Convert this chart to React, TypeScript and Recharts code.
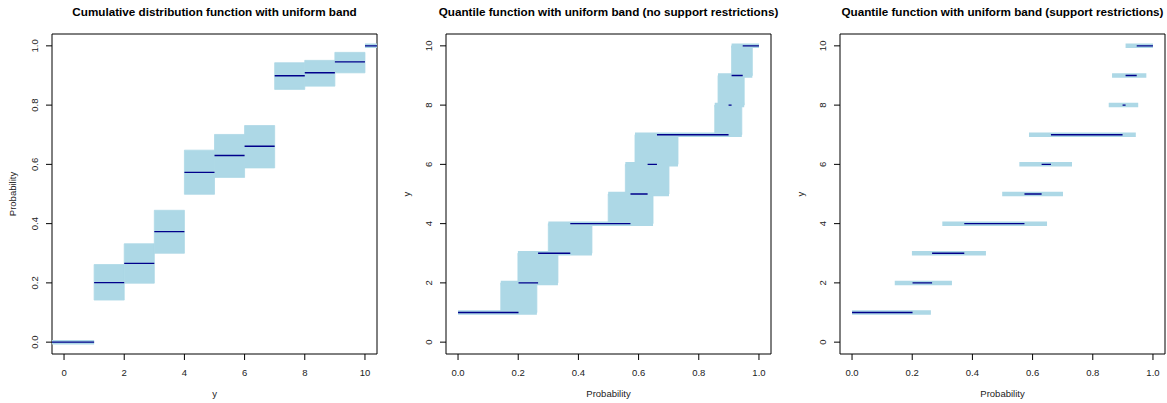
import React from 'react';
import { ComposedChart, Line, XAxis, YAxis, ReferenceArea } from 'recharts';

// ---- data ----
const support = [0, 1, 2, 3, 4, 5, 6, 7, 8, 9, 10];
const ecdf = [0, 0.201, 0.266, 0.373, 0.573, 0.63, 0.661, 0.899, 0.909, 0.946, 1.0];
const bandLower = [0, 0.142, 0.199, 0.3, 0.499, 0.556, 0.588, 0.853, 0.864, 0.909, 1.0];
const bandUpper = [0, 0.262, 0.332, 0.445, 0.648, 0.701, 0.731, 0.943, 0.951, 0.978, 1.0];

const probTicks = [0, 0.2, 0.4, 0.6, 0.8, 1.0];
const supportTicks = [0, 2, 4, 6, 8, 10];

const titles = [
  'Cumulative distribution function with uniform band',
  'Quantile function with uniform band (no support restrictions)',
  'Quantile function with uniform band (support restrictions)',
];

// ---- style ----
const FONT = '"Liberation Sans", Arial, Helvetica, sans-serif';
const BAND = '#add8e6';
const LINE = '#00008b';
const W = 379;
const H = 403;
const BOX_L = 52; // box left inside each chart
const BOX_T = 34;
const BOX_B = 354;
const PLOT_W = 325;

type Seg = { a: number; b: number; y: number };
type Rect = { x1: number; x2: number; y1: number; y2: number };

const segData = (segs: Seg[]) => {
  const out: { x: number; y: number | null }[] = [];
  segs.forEach((s) => {
    out.push({ x: s.a, y: s.y });
    out.push({ x: s.b, y: s.y });
    out.push({ x: s.b, y: null });
  });
  return out;
};

// Panel 1: CDF
const cdfDomainX: [number, number] = [-0.4, 10.4];
const cdfLines: Seg[] = support.map((k, i) => ({
  a: i === 0 ? cdfDomainX[0] : k,
  b: i === support.length - 1 ? cdfDomainX[1] : k + 1,
  y: ecdf[i],
}));
const cdfRects: Rect[] = support
  .map((k, i) => ({ x1: k, x2: k + 1, y1: bandLower[i], y2: bandUpper[i] }))
  .filter((r) => r.y2 > r.y1);
const cdfStrips: Seg[] = support
  .map((k, i) => ({
    a: i === 0 ? cdfDomainX[0] : k,
    b: i === support.length - 1 ? cdfDomainX[1] : k + 1,
    y: bandLower[i],
  }))
  .filter((_, i) => bandLower[i] === bandUpper[i]);

// Panels 2/3: quantile
const qLines: Seg[] = support.slice(1).map((k) => ({ a: ecdf[k - 1], b: ecdf[k], y: k }));
const qStrips: Seg[] = support.slice(1).map((k) => ({ a: bandLower[k - 1], b: bandUpper[k], y: k }));
const qRects: Rect[] = support
  .slice(1, support.length - 1)
  .map((k) => ({ x1: bandLower[k], x2: bandUpper[k], y1: k, y2: k + 1 }));

type PanelCfg = {
  left: number;
  title: string;
  xLabel: string;
  yLabel: string;
  xDomain: [number, number];
  yDomain: [number, number];
  xTicks: number[];
  yTicks: number[];
  xFmt: (v: number) => string;
  yFmt: (v: number) => string;
  rects: Rect[];
  strips: Seg[];
  lines: Seg[];
};

const fmt1 = (v: number) => v.toFixed(1);
const fmt0 = (v: number) => String(Math.round(v));

const panels: PanelCfg[] = [
  {
    left: 0,
    title: titles[0],
    xLabel: 'y',
    yLabel: 'Probability',
    xDomain: cdfDomainX,
    yDomain: [-0.04, 1.04],
    xTicks: supportTicks,
    yTicks: probTicks,
    xFmt: fmt0,
    yFmt: fmt1,
    rects: cdfRects,
    strips: cdfStrips,
    lines: cdfLines,
  },
  {
    left: 394,
    title: titles[1],
    xLabel: 'Probability',
    yLabel: 'y',
    xDomain: [-0.04, 1.04],
    yDomain: [-0.4, 10.4],
    xTicks: probTicks,
    yTicks: supportTicks,
    xFmt: fmt1,
    yFmt: fmt0,
    rects: qRects,
    strips: qStrips,
    lines: qLines,
  },
  {
    left: 788,
    title: titles[2],
    xLabel: 'Probability',
    yLabel: 'y',
    xDomain: [-0.04, 1.04],
    yDomain: [-0.4, 10.4],
    xTicks: probTicks,
    yTicks: supportTicks,
    xFmt: fmt1,
    yFmt: fmt0,
    rects: [],
    strips: qStrips,
    lines: qLines,
  },
];

const Panel = ({ cfg }: { cfg: PanelCfg }) => {
  const XTick = (props: any) => (
    <text x={props.x} y={376} textAnchor="middle" fontSize={9.5} fontFamily={FONT} fill="#222">
      {cfg.xFmt(props.payload.value)}
    </text>
  );
  const YTick = (props: any) => {
    const bx = BOX_L - 13.5;
    return (
      <text
        x={bx}
        y={props.y}
        transform={`rotate(-90 ${bx} ${props.y})`}
        textAnchor="middle"
        fontSize={9.5}
        fontFamily={FONT}
        fill="#222"
      >
        {cfg.yFmt(props.payload.value)}
      </text>
    );
  };
  return (
    <div style={{ position: 'absolute', left: cfg.left, top: 0, width: W, height: H }}>
      <ComposedChart
        width={W}
        height={H}
        margin={{ top: BOX_T, right: W - BOX_L - PLOT_W, bottom: 0, left: 0 }}
      >
        <XAxis
          dataKey="x"
          type="number"
          domain={cfg.xDomain}
          allowDataOverflow
          ticks={cfg.xTicks}
          tick={XTick}
          tickSize={6}
          tickLine={{ stroke: '#000', strokeWidth: 1 }}
          axisLine={false}
          height={H - BOX_B}
          interval={0}
        />
        <YAxis
          type="number"
          domain={cfg.yDomain}
          allowDataOverflow
          ticks={cfg.yTicks}
          tick={YTick}
          tickSize={6}
          tickLine={{ stroke: '#000', strokeWidth: 1 }}
          axisLine={false}
          width={BOX_L}
          interval={0}
        />
        {cfg.rects.map((r, i) => (
          <ReferenceArea
            key={'r' + i}
            x1={r.x1}
            x2={r.x2}
            y1={r.y1}
            y2={r.y2}
            fill={BAND}
            fillOpacity={1}
            stroke={BAND}
            strokeWidth={0.8}
            ifOverflow="visible"
          />
        ))}
        <Line
          data={segData(cfg.strips)}
          dataKey="y"
          stroke={BAND}
          strokeWidth={4.5}
          strokeLinecap="butt"
          dot={false}
          activeDot={false}
          connectNulls={false}
          isAnimationActive={false}
        />
        <Line
          data={segData(cfg.lines)}
          dataKey="y"
          stroke={LINE}
          strokeWidth={1.4}
          strokeLinecap="butt"
          dot={false}
          activeDot={false}
          connectNulls={false}
          isAnimationActive={false}
        />
        <ReferenceArea
          x1={cfg.xDomain[0]}
          x2={cfg.xDomain[1]}
          y1={cfg.yDomain[0]}
          y2={cfg.yDomain[1]}
          fill="none"
          stroke="#000"
          strokeWidth={1}
          ifOverflow="visible"
        />
      </ComposedChart>
    </div>
  );
};

const Labels = () => (
  <svg
    width={1167}
    height={403}
    style={{ position: 'absolute', left: 0, top: 0, pointerEvents: 'none' }}
  >
    {panels.map((cfg, i) => {
      const cx = cfg.left + BOX_L + PLOT_W / 2;
      const cy = (BOX_T + BOX_B) / 2;
      const lx = cfg.left + BOX_L - 36;
      return (
        <g key={i}>
          <text x={cx} y={16} textAnchor="middle" fontSize={11.7} fontWeight="bold" fontFamily={FONT} fill="#000">
            {cfg.title}
          </text>
          <text x={cx} y={396.5} textAnchor="middle" fontSize={9.5} fontFamily={FONT} fill="#222">
            {cfg.xLabel}
          </text>
          <text
            x={lx}
            y={cy}
            transform={`rotate(-90 ${lx} ${cy})`}
            textAnchor="middle"
            fontSize={9.5}
            fontFamily={FONT}
            fill="#222"
          >
            {cfg.yLabel}
          </text>
        </g>
      );
    })}
  </svg>
);

export default function App() {
  return (
    <div
      style={{
        position: 'fixed',
        left: 0,
        top: 0,
        width: 1167,
        height: 403,
        background: '#fff',
        overflow: 'hidden',
      }}
    >
      {panels.map((p, i) => (
        <Panel key={i} cfg={p} />
      ))}
      <Labels />
    </div>
  );
}
